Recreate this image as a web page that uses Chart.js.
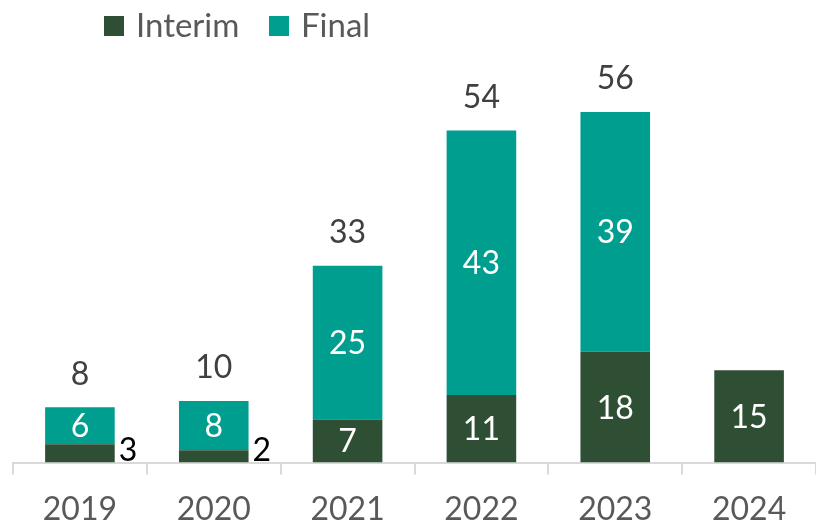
<!DOCTYPE html>
<html>
<head>
<meta charset="utf-8">
<script src="https://cdn.jsdelivr.net/npm/chart.js@4.4.1/dist/chart.umd.min.js"></script>
<style>
  html, body { margin: 0; padding: 0; background: #fff; }
  #wrap { width: 816px; height: 524px; }
</style>
</head>
<body>
<div id="wrap"><canvas id="chart" width="816" height="524"></canvas></div>
<script>
const categories = ['2019', '2020', '2021', '2022', '2023', '2024'];
const interim = [3, 2, 7, 11, 18, 15];
const finals = [6, 8, 25, 43, 39, null];
const totals = [8, 10, 33, 54, 56, null];
const seriesNames = ['Interim', 'Final'];
const seriesColors = ['#2F4F35', '#009E8E'];

const FONT = 'Lato, "Open Sans", sans-serif';

// labels inside segments, outside for tiny segments, totals on top, and the legend
const labelPlugin = {
    id: 'labels',
    afterDatasetsDraw(chart) {
        const ctx = chart.ctx;
        ctx.save();
        ctx.font = '32px ' + FONT;

        chart.data.datasets.forEach((ds, di) => {
            const meta = chart.getDatasetMeta(di);
            meta.data.forEach((bar, i) => {
                const v = ds.data[i];
                if (v == null) return;
                const h = bar.base - bar.y;
                if (h < 25) {
                    ctx.fillStyle = '#000';
                    ctx.textAlign = 'left';
                    ctx.textBaseline = 'alphabetic';
                    ctx.fillText(v, bar.x + bar.width / 2 + 4, bar.base - 2);
                } else {
                    ctx.fillStyle = '#fff';
                    ctx.textAlign = 'center';
                    ctx.textBaseline = 'middle';
                    ctx.fillText(v, bar.x, bar.y + h / 2 + 1);
                }
            });
        });

        const top = chart.getDatasetMeta(1).data;
        totals.forEach((t, i) => {
            if (t == null) return;
            ctx.fillStyle = '#404040';
            ctx.textAlign = 'center';
            ctx.textBaseline = 'middle';
            ctx.fillText(t, top[i].x, top[i].y - 33);
        });

        // legend
        ctx.font = '33px ' + FONT;
        const items = [{ x: 104, text: 'Interim' }, { x: 269, text: 'Final' }];
        items.forEach((it, k) => {
            ctx.fillStyle = seriesColors[k];
            ctx.fillRect(it.x, 16, 20, 20);
            ctx.fillStyle = '#595959';
            ctx.textAlign = 'left';
            ctx.textBaseline = 'middle';
            ctx.fillText(it.text, it.x + 32, 26);
        });
        ctx.restore();
    }
};

new Chart(document.getElementById('chart'), {
    type: 'bar',
    data: {
        labels: categories,
        datasets: [
            { label: seriesNames[0], data: interim, backgroundColor: seriesColors[0] },
            { label: seriesNames[1], data: finals, backgroundColor: seriesColors[1] }
        ]
    },
    options: {
        responsive: false,
        animation: false,
        layout: { padding: { top: 32, left: 13, right: 0, bottom: -21 } },
        datasets: { bar: { barPercentage: 0.52, categoryPercentage: 1 } },
        plugins: { legend: { display: false }, tooltip: { enabled: false } },
        scales: {
            x: {
                stacked: true,
                grid: { offset: true, drawOnChartArea: false, tickLength: 12, color: '#d9d9d9', lineWidth: 2 },
                border: { display: true, color: '#d9d9d9', width: 2 },
                ticks: { color: '#595959', font: { size: 32, family: FONT }, padding: 16 }
            },
            y: {
                stacked: true,
                display: false,
                min: 0,
                max: 70
            }
        }
    },
    plugins: [labelPlugin]
});
</script>
</body>
</html>
